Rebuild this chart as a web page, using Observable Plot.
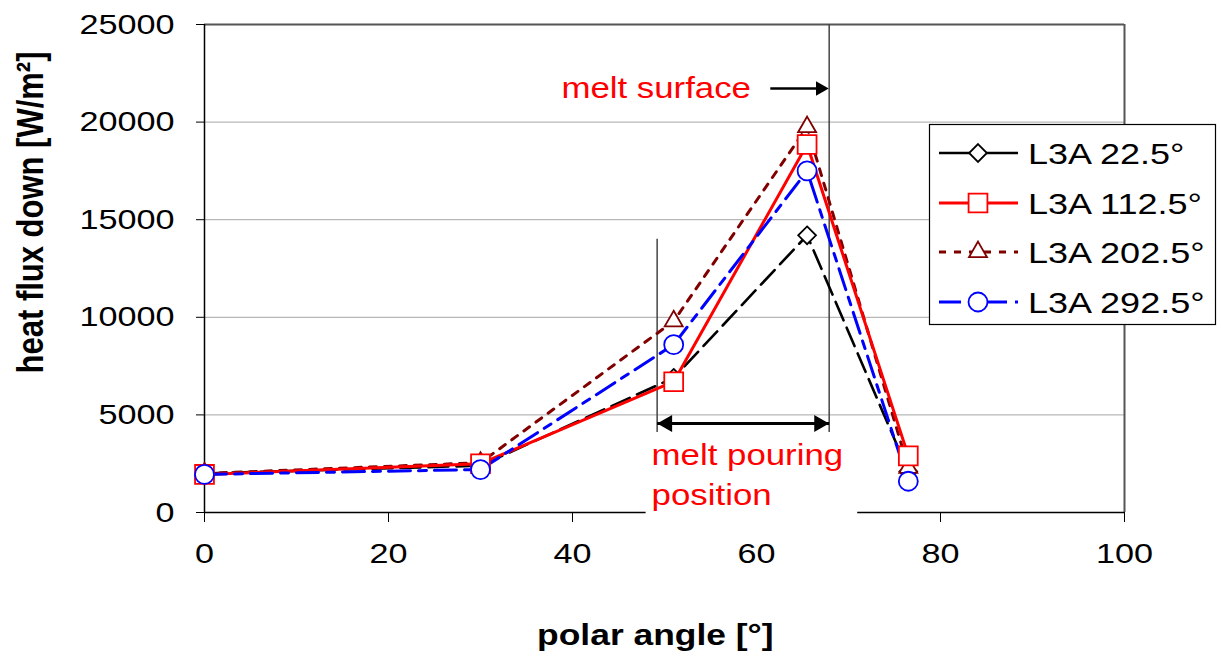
<!DOCTYPE html>
<html>
<head>
<meta charset="utf-8">
<script src="https://cdn.jsdelivr.net/npm/d3@7"></script>
<script src="https://cdn.jsdelivr.net/npm/@observablehq/plot@0.6"></script>
<style>
  html, body { margin: 0; padding: 0; background: white; }
  #wrap { position: relative; width: 1221px; height: 656px; }
  #legend { position: absolute; left: 0; top: 0; pointer-events: none; }
</style>
</head>
<body>
<div id="wrap"></div>
<script>
// ---- data ----
const angles = [0, 30, 51, 65.5, 76.5];
const seriesNames = ["L3A 22.5°", "L3A 112.5°", "L3A 202.5°", "L3A 292.5°"];
const flux225 = [2000, 2400, 6900, 14200, 2100];
const flux1125 = [1950, 2500, 6700, 18850, 2900];
const flux2025 = [2000, 2550, 9800, 19750, 2300];
const flux2925 = [1950, 2200, 8600, 17500, 1600];
const xTicks = [0, 20, 40, 60, 80, 100];
const yTicks = [0, 5000, 10000, 15000, 20000, 25000];
const pourStart = 49.2, pourEnd = 67.9;
const yTitle = "heat flux down [W/m²]";
const xTitle = "polar angle [°]";

// ---- styles ----
const FONT = "'Liberation Sans', Arial, sans-serif";
const styles = [
  {stroke: "black", dash: "20,8", width: 2.6, symbol: "diamond2", r: 8, fill: "white"},
  {stroke: "#ff0000", dash: null, width: 3, symbol: "square2", r: 12, fill: "white"},
  {stroke: "#800000", dash: "7,8", width: 3, symbol: "triangle2", r: 8.6, fill: "white"},
  {stroke: "#0000ff", dash: "22,8,8,8", width: 3, symbol: "circle", r: 9.5, fill: "white"}
];
const allSeries = [flux225, flux1125, flux2025, flux2925];
const drawOrder = [0, 2, 1, 3];
const tables = allSeries.map((vals, i) => angles.map((a, j) => ({angle: a, flux: vals[j], name: seriesNames[i]})));

const seriesMarks = [];
for (const i of drawOrder) {
  const s = styles[i];
  seriesMarks.push(Plot.line(tables[i], {x: "angle", y: "flux", stroke: s.stroke, strokeWidth: s.width,
    strokeDasharray: s.dash || undefined, strokeLinejoin: "miter"}));
}
for (const i of drawOrder) {
  const s = styles[i];
  seriesMarks.push(Plot.dot(tables[i], {x: "angle", y: "flux", symbol: s.symbol, r: s.r,
    stroke: s.stroke, fill: s.fill, strokeWidth: 1.8}));
}

const chart = Plot.plot({
  width: 1221,
  height: 656,
  marginLeft: 204,
  marginRight: 97,
  marginTop: 24,
  marginBottom: 144,
  x: {domain: [0, 100]},
  y: {domain: [0, 25000]},
  style: {fontFamily: FONT, fontSize: "28.5px", background: "white", color: "black"},
  marks: [
    Plot.ruleY(yTicks.slice(1, -1), {stroke: "#a6a6a6", strokeWidth: 1}),
    Plot.ruleY([25000], {stroke: "#555", strokeWidth: 2}),
    Plot.ruleX([100], {stroke: "#555", strokeWidth: 2}),
    Plot.ruleX([pourStart], {y1: 14000, y2: 0, stroke: "#444", strokeWidth: 1.5}),
    Plot.ruleX([pourEnd], {y1: 25000, y2: 0, stroke: "#444", strokeWidth: 1.5}),
    Plot.axisY({ticks: yTicks, tickSize: 8, tickPadding: 22, label: null, tickFormat: d => String(d)}),
    Plot.axisX({ticks: xTicks, tickSize: 10, tickPadding: 20, label: null, tickFormat: d => String(d)}),
    Plot.ruleX([0], {stroke: "black", strokeWidth: 1.5}),
    Plot.ruleY([0], {stroke: "black", strokeWidth: 1.5}),
    // annotation text box (white background)
    Plot.rect([0], {x1: 48, x2: 71, y1: -700, y2: 4100, fill: "white"}),
    ...seriesMarks,
    // double arrow for melt pouring position
    Plot.link([0], {x1: pourStart, x2: pourEnd, y1: 4560, y2: 4560, stroke: "black", strokeWidth: 3}),
    Plot.dot([pourEnd], {x: d => d, y: 4560, symbol: "triangle2", r: 8.2, rotate: 90, dx: -10, fill: "black", stroke: "none"}),
    Plot.dot([pourStart], {x: d => d, y: 4560, symbol: "triangle2", r: 8.2, rotate: -90, dx: 10, fill: "black", stroke: "none"}),
    // melt surface arrow
    Plot.link([0], {x1: 61.5, x2: 67.0, y1: 21720, y2: 21720, stroke: "black", strokeWidth: 2.5}),
    Plot.dot([67.8], {x: d => d, y: 21720, symbol: "triangle2", r: 7, rotate: 90, dx: -8, fill: "black", stroke: "none"}),
    // annotation texts
    Plot.text(["melt surface"], {x: 49.1, y: 21720, text: d => d, fill: "#ff0000", fontSize: 29, textAnchor: "middle"}),
    Plot.text(["melt pouring"], {x: 48.6, y: 2920, text: d => d, fill: "#ff0000", fontSize: 29, textAnchor: "start"}),
    Plot.text(["position"], {x: 48.6, y: 870, text: d => d, fill: "#ff0000", fontSize: 29, textAnchor: "start"}),
    // axis titles
    Plot.text([yTitle], {x: 0, y: 15370, dx: -173, rotate: -90, text: d => d,
      fontFamily: FONT, fontWeight: "bold", fontSize: 31, textAnchor: "middle"}),
    Plot.text([xTitle], {x: 49, y: 0, dy: 123, text: d => d,
      fontFamily: FONT, fontWeight: "bold", fontSize: 29.5, textAnchor: "middle"})
  ]
});

const wrap = document.getElementById("wrap");
wrap.appendChild(chart);

// ---- legend ----
const lg = d3.select(wrap).append("svg").attr("id", "legend").attr("width", 1221).attr("height", 656);
lg.append("rect").attr("x", 929.5).attr("y", 124.5).attr("width", 286).attr("height", 200)
  .attr("fill", "white").attr("stroke", "black").attr("stroke-width", 1.2);
const rowY = [153, 203, 252, 302];
const symMap = {diamond2: d3.symbolDiamond2, square2: d3.symbolSquare2, triangle2: d3.symbolTriangle2, circle: d3.symbolCircle};
seriesNames.forEach((name, i) => {
  const s = styles[i];
  const g = lg.append("g").attr("transform", `translate(0,${rowY[i]})`);
  g.append("line").attr("x1", 939).attr("x2", 1018).attr("y1", 0).attr("y2", 0)
    .attr("stroke", s.stroke).attr("stroke-width", s.width)
    .attr("stroke-dasharray", i === 0 ? null : s.dash);
  g.append("path").attr("transform", "translate(978,0)")
    .attr("d", d3.symbol(symMap[s.symbol], Math.PI * s.r * s.r)())
    .attr("fill", "white").attr("stroke", s.stroke).attr("stroke-width", 1.8);
  g.append("text").attr("x", 1028).attr("y", 0).attr("dy", "0.36em")
    .attr("font-family", FONT).attr("font-size", 30).attr("fill", "black")
    .text(name);
});

// ---- widen glyphs horizontally (the reference text is drawn ~1.2x wide) ----
wrap.querySelectorAll("text").forEach(t => {
  if (t.querySelector("tspan")) return;
  const len = t.getComputedTextLength();
  if (!len) return;
  if (t.textContent === yTitle) {
    const tr = t.getAttribute("transform");
    if (tr && /rotate/.test(tr)) {
      t.setAttribute("transform", tr + " scale(1,1.18)");
    }
    return;
  }
  t.setAttribute("textLength", (len * 1.2).toFixed(1));
  t.setAttribute("lengthAdjust", "spacingAndGlyphs");
});
</script>
</body>
</html>
